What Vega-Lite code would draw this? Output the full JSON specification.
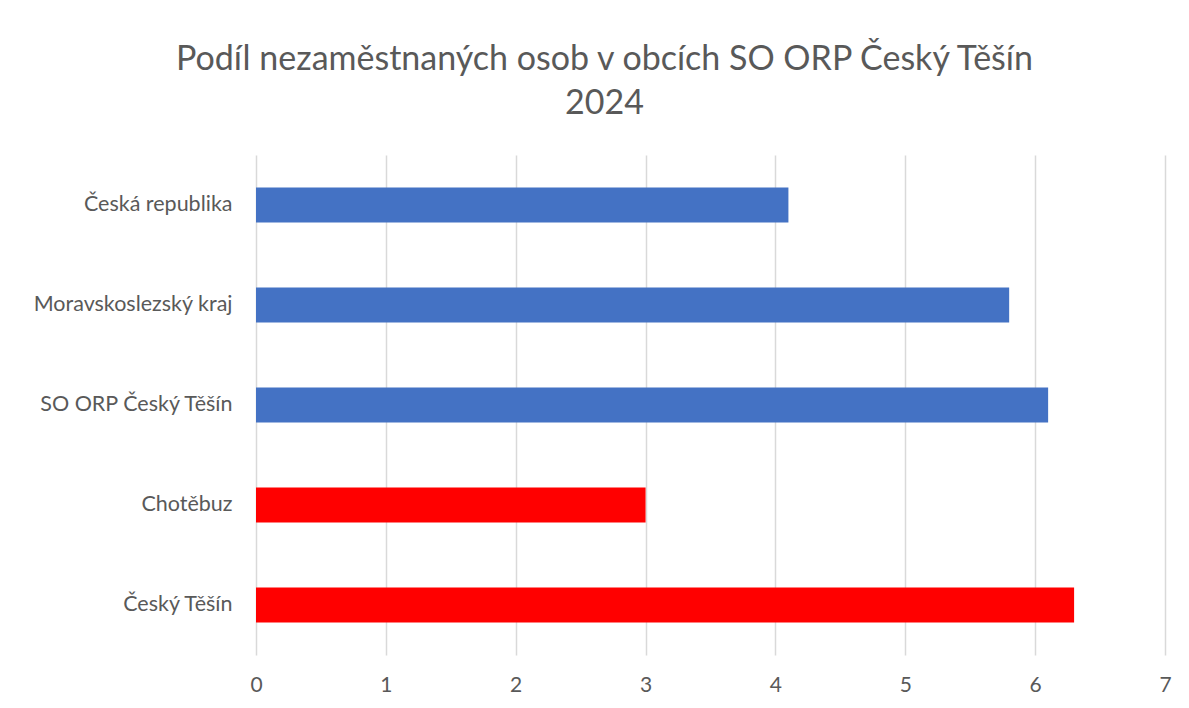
{
  "$schema": "https://vega.github.io/schema/vega-lite/v6.json",
  "autosize": {"type": "none"},
  "padding": {"left": 256, "top": 155, "right": 24, "bottom": 53},
  "width": 909,
  "height": 500,
  "background": "white",
  "title": {
    "text": ["Podíl nezaměstnaných osob v obcích SO ORP Český Těšín", "2024"],
    "font": "Lato",
    "fontSize": 34,
    "fontWeight": "normal",
    "color": "#595959",
    "anchor": "middle",
    "frame": "group",
    "dx": -106,
    "offset": 34,
    "lineHeight": 44
  },
  "data": {
    "values": [
      {"kategorie": "Česká republika", "podil": 4.1, "typ": "srovnani"},
      {"kategorie": "Moravskoslezský kraj", "podil": 5.8, "typ": "srovnani"},
      {"kategorie": "SO ORP Český Těšín", "podil": 6.1, "typ": "srovnani"},
      {"kategorie": "Chotěbuz", "podil": 3.0, "typ": "obec"},
      {"kategorie": "Český Těšín", "podil": 6.3, "typ": "obec"}
    ]
  },
  "mark": {"type": "bar"},
  "encoding": {
    "y": {
      "field": "kategorie",
      "type": "nominal",
      "sort": null,
      "scale": {"paddingInner": 0.65, "paddingOuter": 0.325},
      "axis": {
        "title": null,
        "domain": false,
        "ticks": false,
        "grid": false,
        "labelFont": "Lato",
        "labelFontSize": 21.5,
        "labelColor": "#595959",
        "labelPadding": 24,
        "labelLimit": 300
      }
    },
    "x": {
      "field": "podil",
      "type": "quantitative",
      "scale": {"domain": [0, 7]},
      "axis": {
        "title": null,
        "domain": false,
        "ticks": false,
        "tickCount": 7,
        "grid": true,
        "gridColor": "#d9d9d9",
        "gridWidth": 1.5,
        "labelFlush": false,
        "labelFont": "Lato",
        "labelFontSize": 21,
        "labelColor": "#595959",
        "labelPadding": 19
      }
    },
    "color": {
      "field": "typ",
      "type": "nominal",
      "scale": {"domain": ["srovnani", "obec"], "range": ["#4472c4", "#ff0000"]},
      "legend": null
    }
  },
  "config": {"view": {"stroke": null}}
}
